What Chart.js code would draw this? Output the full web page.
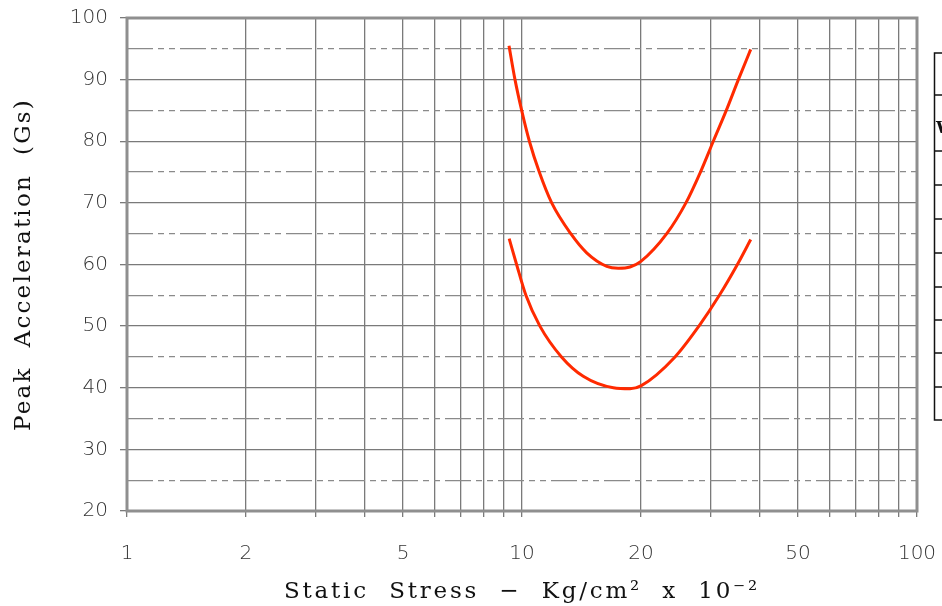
<!DOCTYPE html>
<html>
<head>
<meta charset="utf-8">
<script src="https://cdn.jsdelivr.net/npm/chart.js@4/dist/chart.umd.min.js"></script>
<style>
  html, body { margin: 0; padding: 0; background: #fff; }
  #wrap { width: 942px; height: 606px; position: relative; }
</style>
</head>
<body>
<div id="wrap"><canvas id="c"></canvas></div>
<script>
// ---- data ----
const upperX = [9.27, 9.60, 9.98, 10.44, 11.06, 11.89, 13.29, 14.58, 16.39, 17.53, 18.77, 20.0, 23.25, 26.0, 28.3, 30.5, 32.9, 35.3, 37.93];
const upperY = [95.5, 90, 85, 80, 75, 70, 65, 61.9, 59.7, 59.4, 59.6, 60.5, 65, 70, 75, 80, 85, 90, 94.9];
const lowerX = [9.28, 9.69, 10.23, 11.1, 12.59, 14.29, 17.03, 18.77, 20.0, 24.4, 28.05, 31.6, 35.1, 37.93];
const lowerY = [64.2, 60, 55, 50, 45, 41.86, 40.0, 39.85, 40.3, 45, 50, 55, 60, 64.05];
const xGridTicks = [1, 2, 3, 4, 5, 6, 7, 8, 9, 10, 20, 30, 40, 50, 60, 70, 80, 90, 100];
const xTickLabels = [1, 2, 5, 10, 20, 50, 100];
const yMajorTicks = [20, 30, 40, 50, 60, 70, 80, 90, 100];
const yDashTicks = [25, 35, 45, 55, 65, 75, 85, 95];
const xTitle = 'Static  Stress  \u2212  Kg/cm\u00B2  x  10\u207B\u00B2';
const yTitle = 'Peak  Acceleration  (Gs)';

const toPts = (xs, ys) => xs.map((x, i) => ({ x: x, y: ys[i] }));

// letter spacing only for the axis titles
const titleSpacing = { x: '2.8px', y: '2.2px' };
const titleSpacingPlugin = {
  id: 'titleSpacing',
  beforeDraw(chart) {
    ['x', 'y'].forEach(id => {
      const s = chart.scales[id];
      if (s && !s._spacedTitle) {
        const orig = s.drawTitle;
        s.drawTitle = function () {
          const ctx = this.ctx;
          ctx.save();
          ctx.letterSpacing = titleSpacing[id];
          orig.apply(this, arguments);
          ctx.restore();
        };
        s._spacedTitle = true;
      }
    });
  }
};

const framePlugin = {
  id: 'frame',
  afterDraw(chart) {
    const ctx = chart.ctx;
    const a = chart.chartArea;
    ctx.save();
    ctx.strokeStyle = '#8f8f8f';
    ctx.lineWidth = 3;
    ctx.strokeRect(a.left, a.top, a.right - a.left, a.bottom - a.top);
    // partial box on the right edge
    ctx.strokeStyle = '#111';
    ctx.lineWidth = 1.5;
    ctx.beginPath();
    ctx.moveTo(942, 53); ctx.lineTo(934.5, 53); ctx.lineTo(934.5, 420); ctx.lineTo(942, 420);
    [95, 151, 185, 219, 253, 287, 320, 353, 387].forEach(y => { ctx.moveTo(934.5, y); ctx.lineTo(942, y); });
    ctx.stroke();
    ctx.fillStyle = '#111';
    ctx.font = 'bold 17px "DejaVu Serif"';
    ctx.textBaseline = 'middle';
    ctx.fillText('W', 936, 129);
    ctx.restore();
  }
};

const tickFont = { family: '"DejaVu Sans", "Liberation Sans", sans-serif', size: 20, weight: 200 };
const titleFont = { family: '"DejaVu Serif", serif', size: 23 };

new Chart(document.getElementById('c'), {
  type: 'line',
  data: {
    datasets: [
      { data: toPts(upperX, upperY), borderColor: '#ff2a00', borderWidth: 3, pointRadius: 0, cubicInterpolationMode: 'monotone', fill: false },
      { data: toPts(lowerX, lowerY), borderColor: '#ff2a00', borderWidth: 3, pointRadius: 0, cubicInterpolationMode: 'monotone', fill: false }
    ]
  },
  options: {
    responsive: true,
    maintainAspectRatio: false,
    animation: false,
    events: [],
    layout: { padding: { top: 18, right: 25, left: 0, bottom: 0 } },
    plugins: { legend: { display: false }, tooltip: { enabled: false }, title: { display: false } },
    scales: {
      x: {
        type: 'logarithmic',
        min: 1, max: 100,
        afterBuildTicks(s) { s.ticks = xGridTicks.map(v => ({ value: v })); },
        afterFit(s) { s.height = 95; s.paddingLeft = 0; s.paddingRight = 0; },
        grid: { color: '#7a7a7a', lineWidth: 1.3, tickLength: 6, tickColor: '#7a7a7a' },
        border: { display: false },
        ticks: {
          autoSkip: false, maxRotation: 0, minRotation: 0, padding: 25,
          color: '#333',
          font: tickFont,
          callback(v) { return xTickLabels.includes(Math.round(v * 1000) / 1000) ? String(v) : ''; }
        },
        title: {
          display: true, text: xTitle, color: '#111',
          font: titleFont,
          padding: { top: 3, bottom: 0 }
        }
      },
      y: {
        type: 'linear', position: 'left',
        min: 20, max: 100,
        afterBuildTicks(s) { s.ticks = yMajorTicks.map(v => ({ value: v })); },
        afterFit(s) { s.width = 127; s.paddingTop = 0; s.paddingBottom = 0; },
        grid: { color: '#7a7a7a', lineWidth: 1.3, tickLength: 7, tickColor: '#7a7a7a' },
        border: { display: false },
        ticks: { padding: 12, color: '#333', font: tickFont },
        title: {
          display: true, text: yTitle, color: '#111',
          font: titleFont,
          padding: { top: 10, bottom: 0 }
        }
      },
      y2: {
        type: 'linear', position: 'left', axis: 'y',
        min: 20, max: 100,
        afterBuildTicks(s) { s.ticks = yDashTicks.map(v => ({ value: v })); },
        afterFit(s) { s.width = 0; s.paddingTop = 0; s.paddingBottom = 0; },
        grid: { color: '#8a8a8a', lineWidth: 1.3, drawTicks: false },
        border: { display: false, dash: [26, 5, 6, 5, 6, 5] },
        ticks: { display: false }
      }
    }
  },
  plugins: [titleSpacingPlugin, framePlugin]
});
</script>
</body>
</html>
